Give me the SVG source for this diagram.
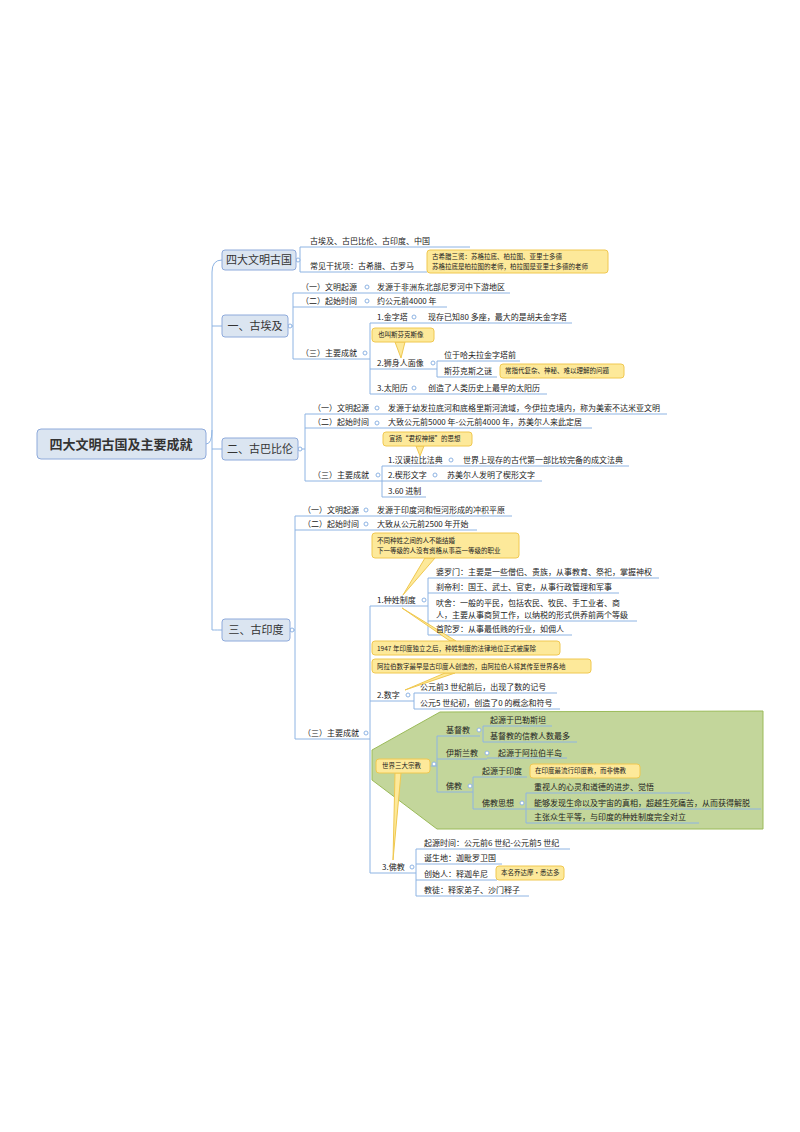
<svg xmlns="http://www.w3.org/2000/svg" width="800" height="1132" viewBox="0 0 800 1132">
<style>
text{font-family:"Noto Sans CJK SC","Liberation Sans",sans-serif;fill:#222}
.t{font-size:8px}
.c{font-size:6.5px}
.m{font-size:11px;fill:#333}
.r{font-size:13px;font-weight:bold;fill:#333}
.ln{stroke:#8eb4e3;stroke-width:1;fill:none}
.box{fill:#dbe5f1;stroke:#8eaadb;stroke-width:1}
.cb{fill:#fde99a;stroke:#f0c850;stroke-width:1}
.dot{fill:#fff;stroke:#8eb4e3;stroke-width:1}
</style>
<rect width="800" height="1132" fill="#fff"/>
<polygon points="440,712 763,711 763,829 437,829 372,780 372,750" fill="#c3d69b" stroke="#9bbb59"/>
<g id="connectors" class="ln">
<path d="M206,444 Q212,444 212,430 V272 Q212,260 222,260 M212,430 V630 Q212,630 222,630 M212,326 H222 M212,449 H222"/>
<path d="M296,260 H300 M300,247 V272 M300,247 H470 M300,272 H427"/>
<path d="M288,326 H293 M293,293 V359 M293,293 H510 M293,307 H447 M293,359 H368"/>
<path d="M368,359 H370 M370,323 V394 M370,323 H572 M370,369 H437 M370,394 H547"/>
<path d="M437,361 V377 M437,361 H520 M437,377 H497"/>
<path d="M298,449 H305 M305,414 V481 M305,414 H667 M305,428 H592 M305,481 H382"/>
<path d="M382,466 V497 M382,466 H629 M382,481 H542 M382,497 H426"/>
<path d="M290,630 H295 M295,516 V739 M295,516 H512 M295,530 H477 M295,739 H368"/>
<path d="M368,739 H370 M370,606 V873 M370,606 H428 M370,701 H414 M370,873 H416"/>
<path d="M428,578 V635 M428,578 H659 M428,593 H619 M428,621 H637 M428,635 H572"/>
<path d="M414,693 V709 M414,693 H557 M414,709 H560"/>
<path d="M430,766 H437 M437,736 V792 M437,736 H480 M437,759 H487 M437,792 H473"/>
<path d="M483,726 V742 M483,726 H552 M483,742 H577 M487,758 H567"/>
<path d="M473,777 V809 M473,777 H527 M473,809 H526 M526,793 V823 M526,793 H690 M526,809 H761 M526,823 H699"/>
<path d="M416,849 V896 M416,849 H570 M416,864 H502 M416,880 H497 M416,896 H529"/>
</g>
<g id="dots">
<circle class="dot" cx="298" cy="260" r="2"/><circle class="dot" cx="290" cy="326" r="2"/><circle class="dot" cx="300" cy="449" r="2"/><circle class="dot" cx="292" cy="630" r="2"/>
<circle class="dot" cx="367" cy="287" r="2"/><circle class="dot" cx="367" cy="301" r="2"/><circle class="dot" cx="365" cy="353" r="2"/>
<circle class="dot" cx="414" cy="317" r="2"/><circle class="dot" cx="433" cy="363" r="2"/><circle class="dot" cx="414" cy="388" r="2"/>
<circle class="dot" cx="377" cy="408" r="2"/><circle class="dot" cx="377" cy="423" r="2"/><circle class="dot" cx="378" cy="475" r="2"/>
<circle class="dot" cx="451" cy="460" r="2"/><circle class="dot" cx="435" cy="475" r="2"/>
<circle class="dot" cx="366" cy="510" r="2"/><circle class="dot" cx="366" cy="524" r="2"/><circle class="dot" cx="366" cy="733" r="2"/>
<circle class="dot" cx="424" cy="600" r="2"/><circle class="dot" cx="408" cy="695" r="2"/><circle class="dot" cx="412" cy="867" r="2"/>
<circle class="dot" cx="434" cy="764" r="2"/><circle class="dot" cx="479" cy="730" r="2"/><circle class="dot" cx="487" cy="753" r="2"/><circle class="dot" cx="470" cy="786" r="2"/><circle class="dot" cx="522" cy="803" r="2"/>
</g>
<g id="root"><rect class="box" x="37" y="429" width="169" height="30" rx="4"/><text class="r" x="121" y="449" text-anchor="middle">四大文明古国及主要成就</text></g>
<g id="n1"><rect class="box" x="222" y="250" width="74" height="20" rx="3"/><text class="m" x="259" y="264" text-anchor="middle">四大文明古国</text></g>
<g id="n2"><rect class="box" x="222" y="315" width="66" height="22" rx="3"/><text class="m" x="255" y="330" text-anchor="middle">一、古埃及</text></g>
<g id="n3"><rect class="box" x="222" y="438" width="76" height="22" rx="3"/><text class="m" x="260" y="453" text-anchor="middle">二、古巴比伦</text></g>
<g id="n4"><rect class="box" x="222" y="619" width="68" height="22" rx="3"/><text class="m" x="256" y="634" text-anchor="middle">三、古印度</text></g>
<g id="callouts">
<rect class="cb" x="427" y="250" width="181" height="23" rx="3"/><text class="c" x="432" y="259">古希腊三贤：苏格拉底、柏拉图、亚里士多德</text><text class="c" x="432" y="269">苏格拉底是柏拉图的老师，柏拉图是亚里士多德的老师</text>
<path class="cb" d="M395,342 L401,358 L405,342 Z"/><rect class="cb" x="372" y="328" width="62" height="14" rx="3"/><text class="c" x="378" y="337">也叫斯芬克斯像</text>
<rect class="cb" x="500" y="364" width="124" height="14" rx="3"/><text class="c" x="505" y="373">常指代复杂、神秘、难以理解的问题</text>
<path class="cb" d="M416,446 L420,456 L424,446 Z"/><rect class="cb" x="383" y="432" width="89" height="14" rx="3"/><text class="c" x="389" y="441">宣扬“君权神授”的思想</text>
<path class="cb" d="M425,558 L403,595 L435,558 Z"/><rect class="cb" x="372" y="533" width="147" height="25" rx="3"/><text class="c" x="377" y="543">不同种姓之间的人不能结婚</text><text class="c" x="377" y="553">下一等级的人没有资格从事高一等级的职业</text>
<path class="cb" d="M402,608 L450,641 L456,641 Z"/><rect class="cb" x="372" y="641" width="188" height="14" rx="3"/><text class="c" x="377" y="651">1947 年印度独立之后，种姓制度的法律地位正式被废除</text>
<path class="cb" d="M405,690 L445,673 L455,673 Z"/><rect class="cb" x="372" y="659" width="219" height="14" rx="3"/><text class="c" x="377" y="669">阿拉伯数字最早是古印度人创造的，由阿拉伯人将其传至世界各地</text>
<path class="cb" d="M395,773 L393,860 L401,773 Z"/><rect class="cb" x="376" y="759" width="54" height="14" rx="3"/><text class="c" x="382" y="768">世界三大宗教</text>
<rect class="cb" x="530" y="764" width="110" height="14" rx="3"/><text class="c" x="535" y="773">在印度最流行印度教，而非佛教</text>
<rect class="cb" x="496" y="866" width="68" height="14" rx="3"/><text class="c" x="501" y="875">本名乔达摩·悉达多</text>
</g>
<g id="labels" class="t">
<text class="t" x="310" y="244">古埃及、古巴比伦、古印度、中国</text>
<text class="t" x="310" y="269">常见干扰项：古希腊、古罗马</text>
<text class="t" x="301" y="290">（一）文明起源</text><text class="t" x="377" y="290">发源于非洲东北部尼罗河中下游地区</text>
<text class="t" x="301" y="304">（二）起始时间</text><text class="t" x="377" y="304">约公元前4000 年</text>
<text class="t" x="301" y="356">（三）主要成就</text>
<text class="t" x="377" y="320">1.金字塔</text><text class="t" x="428" y="320">现存已知80 多座，最大的是胡夫金字塔</text>
<text class="t" x="377" y="366">2.狮身人面像</text><text class="t" x="444" y="358">位于哈夫拉金字塔前</text><text class="t" x="444" y="374">斯芬克斯之谜</text>
<text class="t" x="377" y="391">3.太阳历</text><text class="t" x="428" y="391">创造了人类历史上最早的太阳历</text>
<text class="t" x="313" y="411">（一）文明起源</text><text class="t" x="388" y="411">发源于幼发拉底河和底格里斯河流域，今伊拉克境内，称为美索不达米亚文明</text>
<text class="t" x="313" y="425">（二）起始时间</text><text class="t" x="388" y="425">大致公元前5000 年-公元前4000 年，苏美尔人来此定居</text>
<text class="t" x="313" y="478">（三）主要成就</text>
<text class="t" x="388" y="463">1.汉谟拉比法典</text><text class="t" x="463" y="463">世界上现存的古代第一部比较完备的成文法典</text>
<text class="t" x="388" y="478">2.楔形文字</text><text class="t" x="447" y="478">苏美尔人发明了楔形文字</text>
<text class="t" x="388" y="494">3.60 进制</text>
<text class="t" x="303" y="513">（一）文明起源</text><text class="t" x="377" y="513">发源于印度河和恒河形成的冲积平原</text>
<text class="t" x="303" y="527">（二）起始时间</text><text class="t" x="377" y="527">大致从公元前2500 年开始</text>
<text class="t" x="303" y="736">（三）主要成就</text>
<text class="t" x="377" y="603">1.种姓制度</text>
<text class="t" x="436" y="575">婆罗门：主要是一些僧侣、贵族，从事教育、祭祀，掌握神权</text>
<text class="t" x="436" y="590">刹帝利：国王、武士、官吏，从事行政管理和军事</text>
<text class="t" x="436" y="606">吠舍：一般的平民，包括农民、牧民、手工业者、商</text>
<text class="t" x="436" y="618">人，主要从事商贸工作，以纳税的形式供养前两个等级</text>
<text class="t" x="436" y="632">首陀罗：从事最低贱的行业，如佣人</text>
<text class="t" x="377" y="698">2.数字</text>
<text class="t" x="420" y="690">公元前3 世纪前后，出现了数的记号</text>
<text class="t" x="420" y="706">公元5 世纪初，创造了0 的概念和符号</text>
<text class="t" x="446" y="733">基督教</text><text class="t" x="490" y="723">起源于巴勒斯坦</text><text class="t" x="490" y="739">基督教的信教人数最多</text>
<text class="t" x="446" y="756">伊斯兰教</text><text class="t" x="498" y="756">起源于阿拉伯半岛</text>
<text class="t" x="446" y="789">佛教</text><text class="t" x="482" y="774">起源于印度</text><text class="t" x="482" y="806">佛教思想</text>
<text class="t" x="534" y="790">重视人的心灵和道德的进步、觉悟</text>
<text class="t" x="534" y="806">能够发现生命以及宇宙的真相，超越生死痛苦，从而获得解脱</text>
<text class="t" x="534" y="820">主张众生平等，与印度的种姓制度完全对立</text>
<text class="t" x="382" y="870">3.佛教</text>
<text class="t" x="424" y="846">起源时间：公元前6 世纪-公元前5 世纪</text>
<text class="t" x="424" y="861">诞生地：迦毗罗卫国</text>
<text class="t" x="424" y="877">创始人：释迦牟尼</text>
<text class="t" x="424" y="893">教徒：释家弟子、沙门释子</text>
</g>
</svg>
